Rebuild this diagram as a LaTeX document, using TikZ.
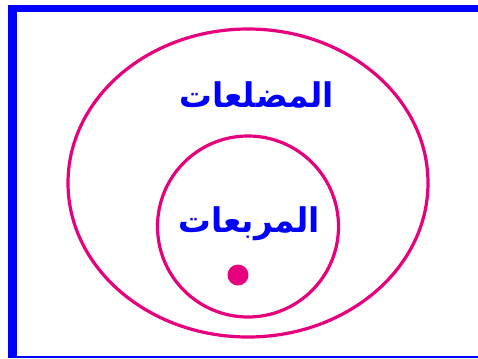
\documentclass[tikz,border=0pt]{standalone}
\usepackage{fontspec}
\TeXXeTstate=1
\newfontfamily\arabicfont[Script=Arabic]{DejaVu Sans}
\usetikzlibrary{shapes.geometric}
\definecolor{setpink}{RGB}{230,0,126}
\definecolor{labelblue}{RGB}{0,0,255}
\tikzset{
  setline/.style={draw=setpink, line width=3.2pt},
  setlabel/.style={text=labelblue, font=\arabicfont\bfseries\fontsize{34}{36}\selectfont, inner sep=0pt, xscale=0.96},
}
\begin{document}
\begin{tikzpicture}[x=1pt,y=-1pt]
\useasboundingbox (0,0) rectangle (478,358);
% frame
\fill[labelblue] (8,5) rectangle (16.7,358);
\fill[labelblue] (8,5) rectangle (478,12);
\fill[labelblue] (8,355.8) rectangle (478,358);
% sets
\node[setline, ellipse, minimum width=360pt, minimum height=308pt, inner sep=0pt] (polygons) at (248,183) {};
\node[setline, circle, minimum size=181pt, inner sep=0pt] (squares) at (248,226.5) {};
\node[setlabel, anchor=base] (polylabel) at (256.5,108) {\beginR المضلعات\endR};
\node[setlabel, anchor=base] (sqlabel) at (249,232) {\beginR المربعات\endR};
\node[circle, fill=setpink, minimum size=21pt, inner sep=0pt] (element) at (238,275) {};
\end{tikzpicture}
\end{document}
